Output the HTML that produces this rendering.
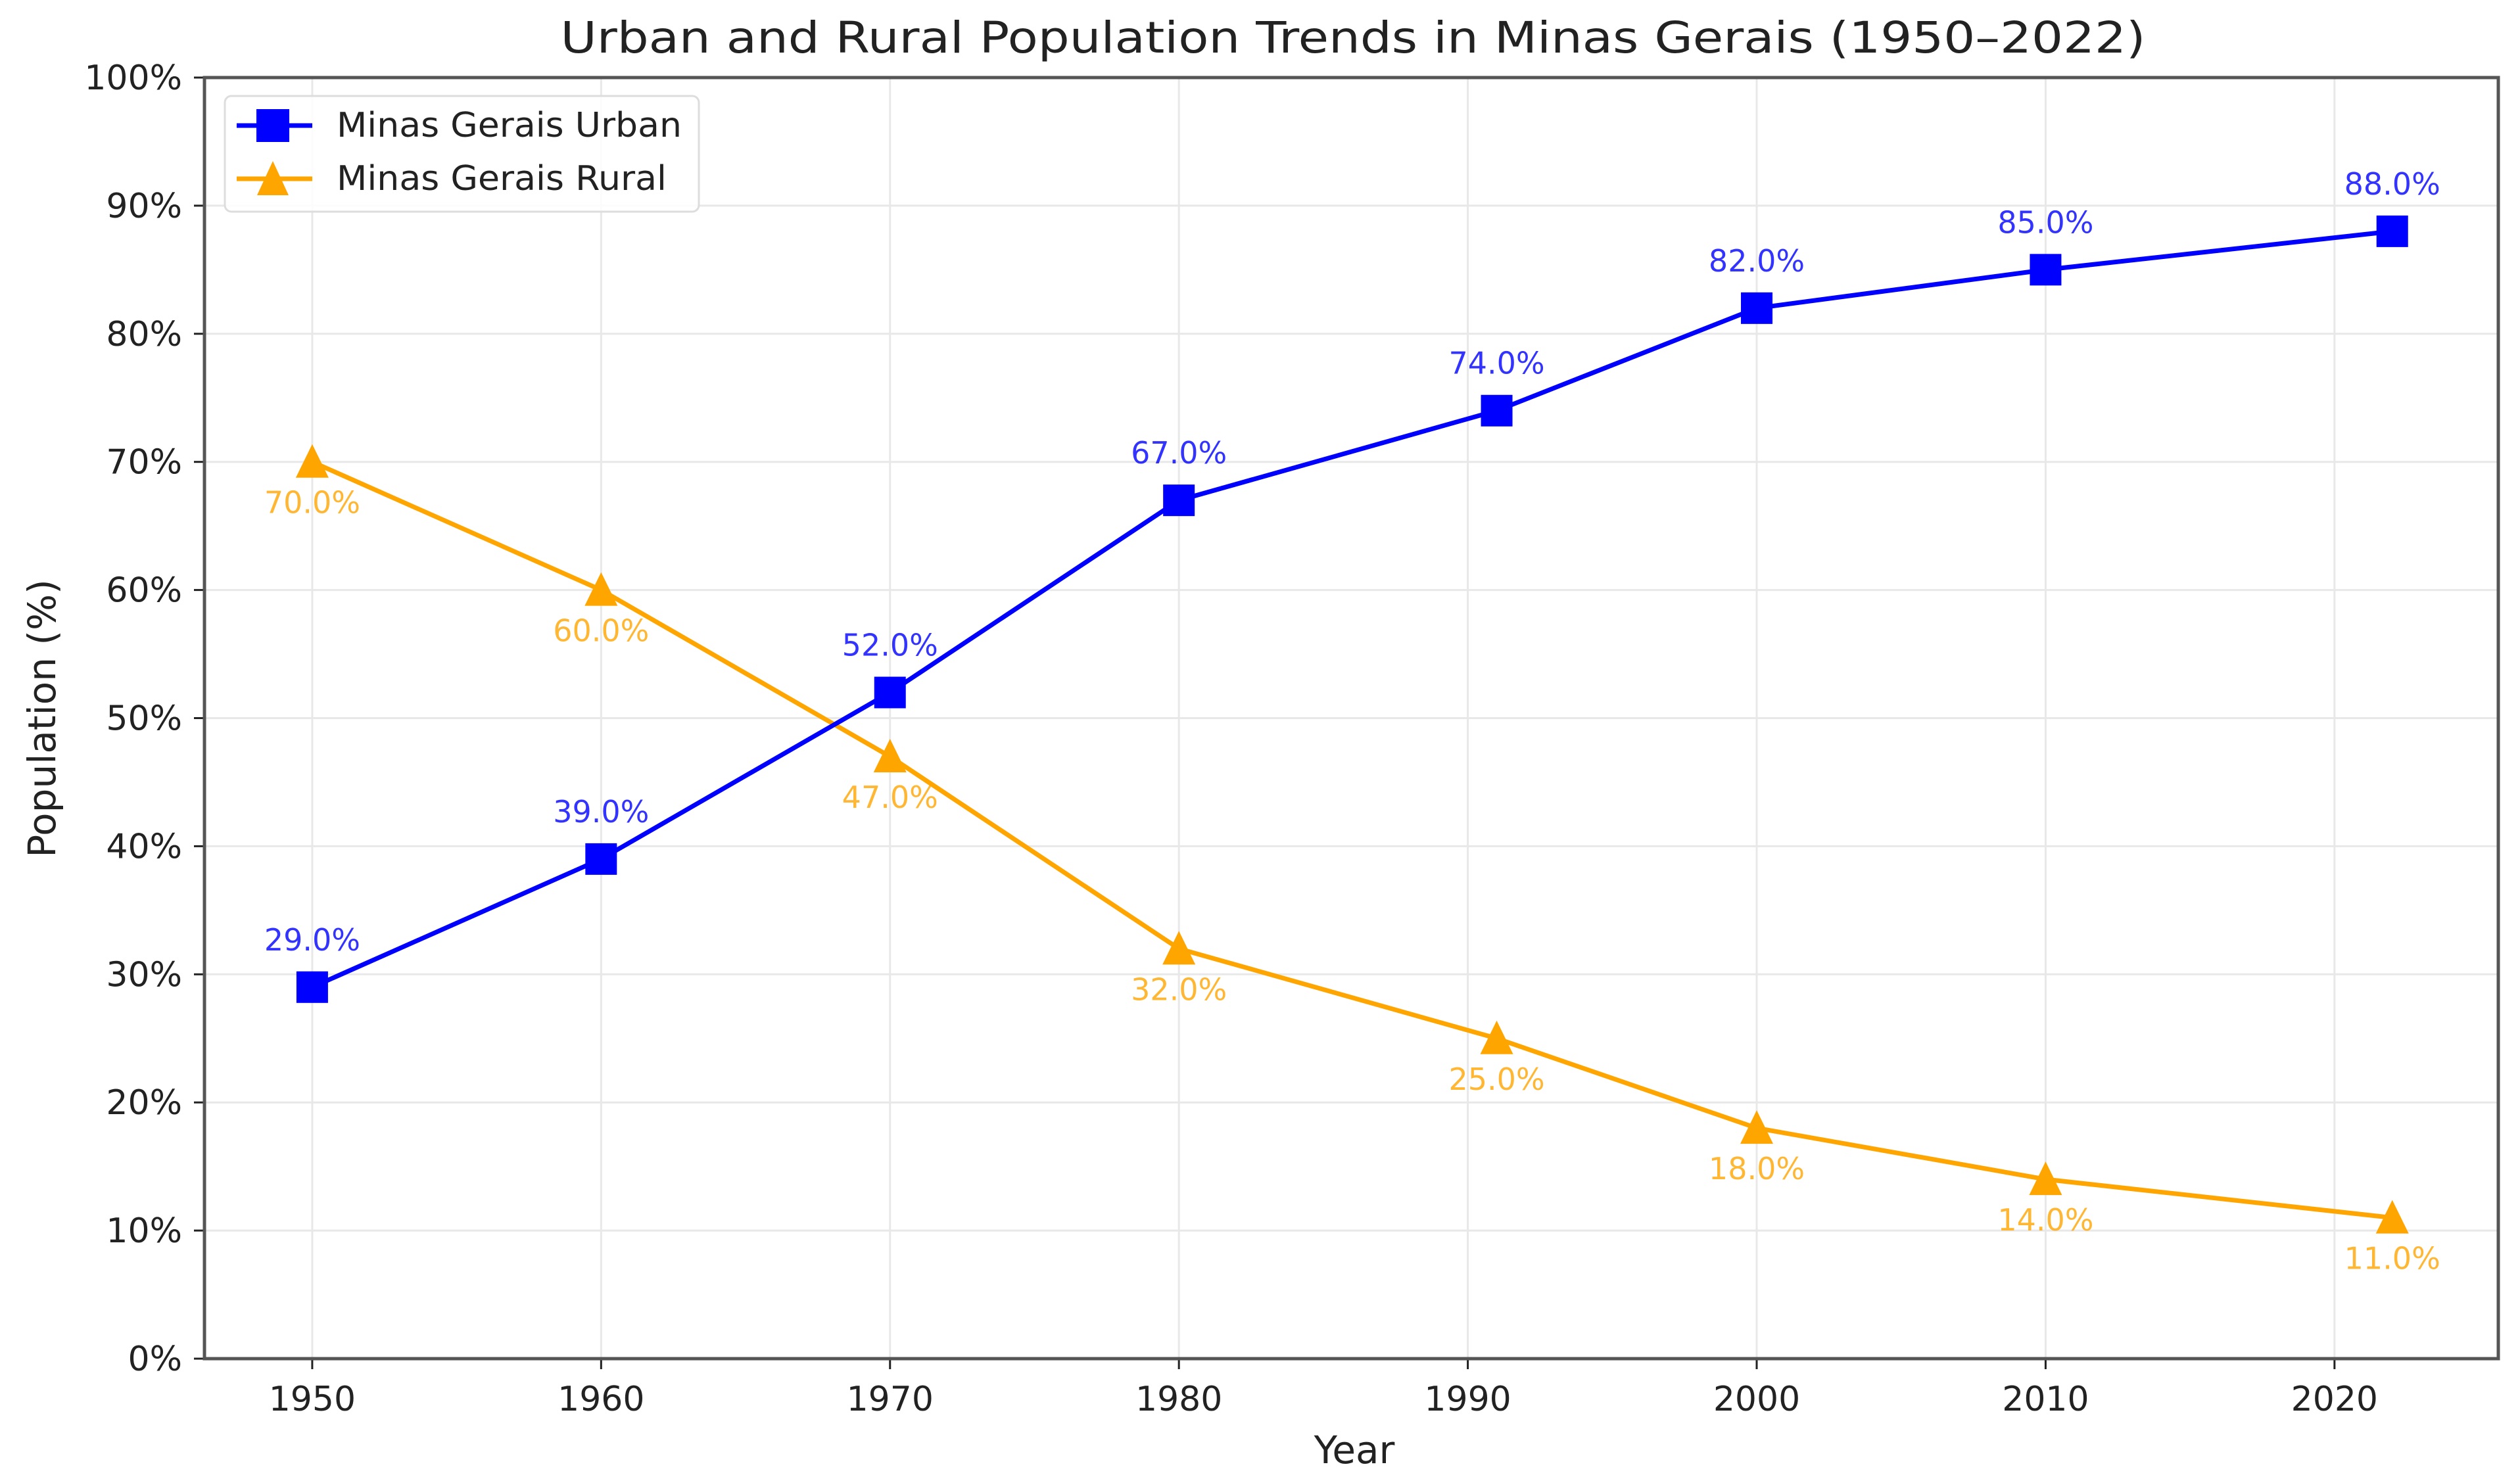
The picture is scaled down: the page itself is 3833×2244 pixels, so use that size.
<!DOCTYPE html>
<html><head><meta charset="utf-8"><style>
html,body{margin:0;padding:0;background:#fff;}
svg{display:block;font-family:"DejaVu Sans","Liberation Sans",sans-serif;}
</style></head><body>
<svg id="chart" width="3833" height="2244" viewBox="0 0 3833 2244" xmlns="http://www.w3.org/2000/svg">
<rect width="3833" height="2244" fill="#fff"/>
<text x="2058" y="80" font-size="66" text-anchor="middle" fill="#222" textLength="2411" lengthAdjust="spacingAndGlyphs">Urban and Rural Population Trends in Minas Gerais (1950–2022)</text>
<g id="grid"></g>
<g id="axes"></g>
<g id="series"></g>
<g id="legend">
<rect x="342" y="146" width="721" height="176" rx="10" fill="#fff" fill-opacity="0.85" stroke="#ddd" stroke-width="3"/>
<g>
<line x1="360" y1="191" x2="475" y2="191" stroke="#0000ff" stroke-width="7"/>
<rect x="390" y="166" width="50" height="50" fill="#0000ff"/>
<text x="512" y="208" font-size="52" fill="#222" textLength="525" lengthAdjust="spacingAndGlyphs">Minas Gerais Urban</text>
</g>
<g>
<line x1="360" y1="272" x2="475" y2="272" stroke="#ffa500" stroke-width="7"/>
<polygon points="415,245 439,297 391,297" fill="#ffa500"/>
<text x="512" y="289" font-size="52" fill="#222" textLength="502" lengthAdjust="spacingAndGlyphs">Minas Gerais Rural</text>
</g>
</g>
</svg>
<script>
const years = [1950, 1960, 1970, 1980, 1991, 2000, 2010, 2022];
const urbanValues = [29, 39, 52, 67, 74, 82, 85, 88];
const ruralValues = [70, 60, 47, 32, 25, 18, 14, 11];
const xTicks = [1950, 1960, 1970, 1980, 1990, 2000, 2010, 2020];
const yTicks = [0, 10, 20, 30, 40, 50, 60, 70, 80, 90, 100];

const L = 311, R = 3800, T = 118, B = 2067;
const xMin = 1946.27, xMax = 2025.67;
const NS = "http://www.w3.org/2000/svg";
function xs(v){ return L + (v - xMin) / (xMax - xMin) * (R - L); }
function ys(v){ return B - v / 100 * (B - T); }
function mk(tag, attrs, parent){ const e = document.createElementNS(NS, tag); for (const k in attrs) e.setAttribute(k, attrs[k]); parent.appendChild(e); return e; }

const grid = document.getElementById('grid');
const axes = document.getElementById('axes');
const series = document.getElementById('series');

xTicks.forEach(t => {
  const g = mk('line', {x1: xs(t), x2: xs(t), y1: T, y2: B, stroke: '#e8e8e8', 'stroke-width': 3}, grid);
  
  
  const tk = mk('line', {x1: xs(t), x2: xs(t), y1: B, y2: B + 16, stroke: '#222', 'stroke-width': 3}, axes);
  
  
  const lb = mk('text', {x: xs(t), y: 2146, 'font-size': 52, 'text-anchor': 'middle', fill: '#222'}, axes);
  lb.textContent = t;
  
  
});
yTicks.forEach(t => {
  const g = mk('line', {x1: L, x2: R, y1: ys(t), y2: ys(t), stroke: '#e8e8e8', 'stroke-width': 3}, grid);
  
  
  const tk = mk('line', {x1: L - 16, x2: L, y1: ys(t), y2: ys(t), stroke: '#222', 'stroke-width': 3}, axes);
  
  
  const lb = mk('text', {x: 277, y: ys(t) + 18, 'font-size': 52, 'text-anchor': 'end', fill: '#222'}, axes);
  lb.textContent = t + '%';
  
  
});
const frame = mk('rect', {x: L, y: T, width: R - L, height: B - T, fill: 'none', stroke: '#555', 'stroke-width': 5}, axes);


const xt = mk('text', {x: 2060, y: 2226, 'font-size': 58, 'text-anchor': 'middle', fill: '#222'}, axes);
xt.textContent = 'Year';


const yt = mk('text', {x: 0, y: 0, 'font-size': 58, 'text-anchor': 'middle', fill: '#222', transform: 'translate(84,1093) rotate(-90)'}, axes);
yt.textContent = 'Population (%)';



function drawSeries(vals, color, shape, name, labelDy){
  const pts = years.map((y, i) => xs(y) + ',' + ys(vals[i])).join(' ');
  const pl = mk('polyline', {points: pts, fill: 'none', stroke: color, 'stroke-width': 7, 'stroke-linejoin': 'round'}, series);
  
  
  years.forEach((y, i) => {
    const cx = xs(y), cy = ys(vals[i]);
    let m;
    if (shape === 'square') m = mk('rect', {x: cx - 24, y: cy - 24, width: 48, height: 48, fill: color}, series);
    else m = mk('polygon', {points: `${cx},${cy-27} ${cx+25},${cy+24} ${cx-25},${cy+24}`, fill: color}, series);
    
    
    const t = mk('text', {x: cx, y: cy + labelDy, 'font-size': 46, 'text-anchor': 'middle', fill: color, 'fill-opacity': 0.8}, series);
    t.textContent = vals[i].toFixed(1) + '%';
    
    
  });
}
drawSeries(ruralValues, '#ffa500', 'triangle', 'rural', 78);
drawSeries(urbanValues, '#0000ff', 'square', 'urban', -56);
</script>
</body></html>
